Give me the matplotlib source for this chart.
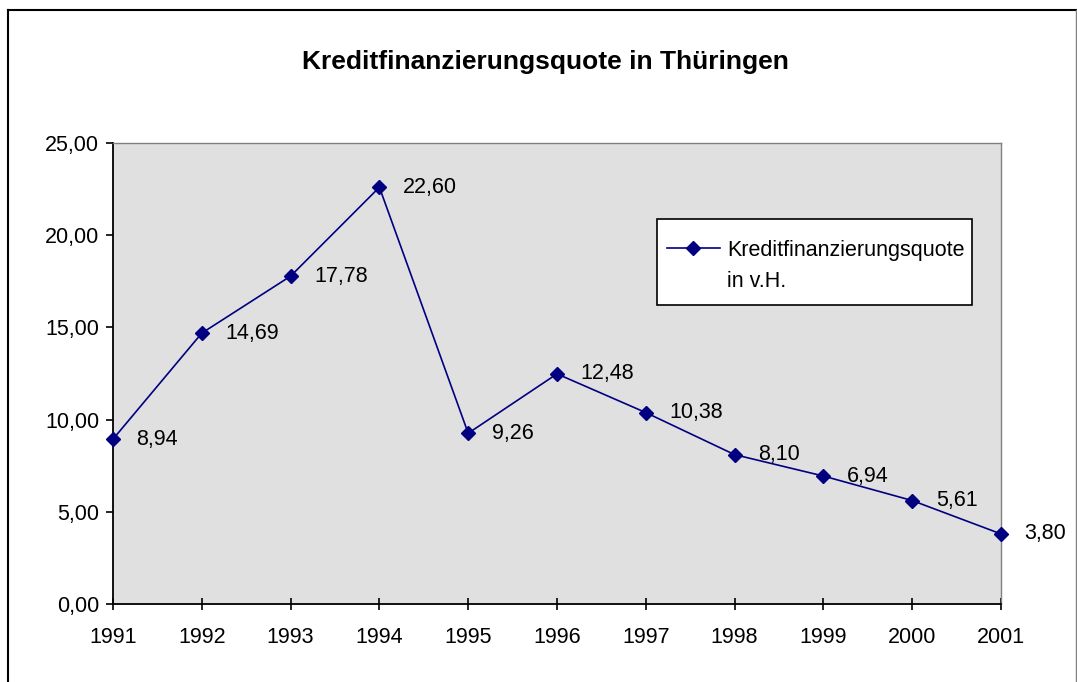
import matplotlib
matplotlib.use("Agg")
import matplotlib.pyplot as plt
from matplotlib.lines import Line2D
from matplotlib.patches import Rectangle
from matplotlib.legend_handler import HandlerLine2D
from matplotlib.ticker import FuncFormatter, MultipleLocator

plt.rcParams['font.family'] = ['Liberation Sans', 'DejaVu Sans']

years = [1991, 1992, 1993, 1994, 1995, 1996, 1997, 1998, 1999, 2000, 2001]
values = [8.94, 14.69, 17.78, 22.60, 9.26, 12.48, 10.38, 8.10, 6.94, 5.61, 3.80]
title = "Kreditfinanzierungsquote in Thüringen"
series_label = "Kreditfinanzierungsquote\nin v.H."

W, H = 1077, 682
fig = plt.figure(figsize=(W / 100, H / 100), dpi=100)
fig.patch.set_facecolor('white')

# outer chart frame
fig.add_artist(Line2D([8 / W, 8 / W], [0, 1 - 10 / H], transform=fig.transFigure, color='black', lw=1.5))
fig.add_artist(Line2D([8 / W, 1076 / W], [1 - 10 / H, 1 - 10 / H], transform=fig.transFigure, color='black', lw=1.5))
fig.add_artist(Line2D([1076 / W, 1076 / W], [0, 1 - 10 / H], transform=fig.transFigure, color='#808080', lw=1.0))

ax = fig.add_axes([113 / W, 78 / H, (1001 - 113) / W, (604 - 143) / H])
ax.set_facecolor('#E0E0E0')
navy = '#000080'
ax.plot(years, values, color=navy, lw=1.2, marker='D', ms=7.5, mfc=navy, mec=navy,
        label=series_label, clip_on=False, zorder=5)

for x, y in zip(years, values):
    ax.annotate(f"{y:.2f}".replace('.', ','), (x, y), xytext=(17, 0), textcoords='offset points',
                ha='left', va='center', fontsize=15.5, color='black')

ax.set_xlim(1991, 2001)
ax.set_ylim(0, 25)
ax.set_xticks(years)
ax.yaxis.set_major_locator(MultipleLocator(5))
ax.yaxis.set_major_formatter(FuncFormatter(lambda v, p: f"{v:.2f}".replace('.', ',')))

for s in ['left', 'bottom']:
    ax.spines[s].set_color('black')
    ax.spines[s].set_linewidth(1.3)
for s in ['top', 'right']:
    ax.spines[s].set_color('#808080')
    ax.spines[s].set_linewidth(1.0)

ax.tick_params(axis='y', direction='out', length=5, width=1.2, labelsize=15.5, pad=5)
ax.tick_params(axis='x', direction='inout', length=9, width=1.2, labelsize=15.5, pad=12)

# legend box (drawn separately to match the original proportions)
box = Rectangle((657 / W, 1 - 305 / H), (972 - 657) / W, (305 - 219) / H, transform=fig.transFigure,
                facecolor='white', edgecolor='black', lw=1.2, zorder=6)
ax.add_artist(box)


class TopAlignedHandler(HandlerLine2D):
    """Place the legend key beside the first line of a two-line label."""
    def create_artists(self, legend, orig_handle, xdescent, ydescent, width, height, fontsize, trans):
        artists = super().create_artists(legend, orig_handle, xdescent, ydescent, width, height, fontsize, trans)
        shift = 13.2
        for a in artists:
            a.set_ydata([y + shift for y in a.get_ydata()])
        return artists


leg = ax.legend(loc='upper left', bbox_to_anchor=(667 / W, 1 - 240 / H), bbox_transform=fig.transFigure,
                frameon=False, fontsize=15.5, handlelength=2.46,
                borderpad=0, handletextpad=0.33, borderaxespad=0,
                handler_map={Line2D: TopAlignedHandler()})
leg.set_zorder(7)
for t in leg.get_texts():
    t.set_linespacing(1.62)

fig.text(545 / W, 1 - 62 / H, title, ha='center', va='center', fontsize=19, fontweight='bold')

fig.savefig('out.png', dpi=100)
